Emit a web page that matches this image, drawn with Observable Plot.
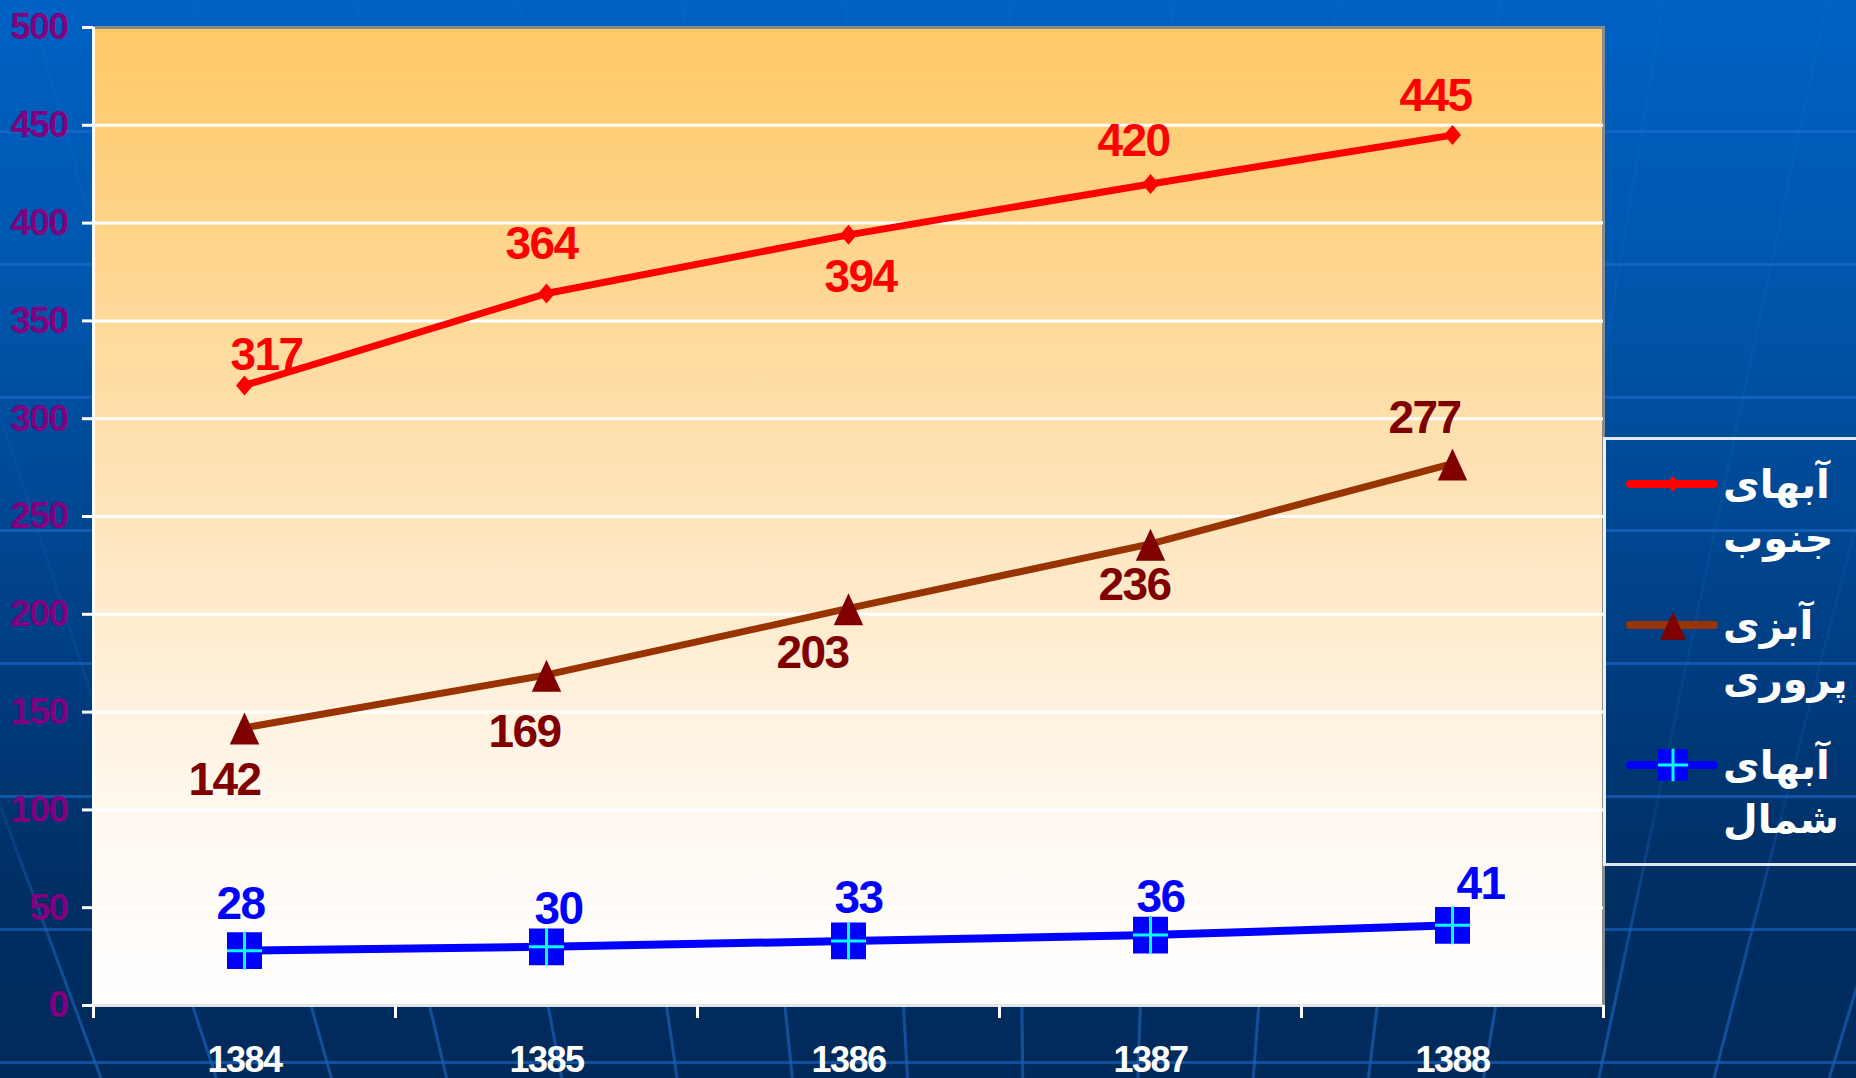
<!DOCTYPE html>
<html>
<head>
<meta charset="utf-8">
<script src="https://cdn.jsdelivr.net/npm/d3@7"></script>
<script src="https://cdn.jsdelivr.net/npm/@observablehq/plot@0.6"></script>
<style>
html, body { margin: 0; padding: 0; width: 1856px; height: 1078px; overflow: hidden; }
body {
  position: relative;
  background:
    repeating-linear-gradient(to bottom, transparent 0px, transparent 130px, rgba(30,110,210,0.55) 130px, rgba(30,110,210,0.55) 133px),
    linear-gradient(to bottom, #0062C4 0%, #0054A8 30%, #00428A 55%, #002F64 82%, #002A5A 100%);
}
#deco { position: absolute; left: 0; top: 0; }
#chart { position: absolute; left: 0; top: 0; }
#chart text { letter-spacing: -1.5px; }
#legend {
  position: absolute; left: 1603px; top: 437px; width: 253px; height: 429px;
  box-sizing: border-box;
  border-top: 3px solid #dfe6ee; border-bottom: 3px solid #dfe6ee; border-left: 3px solid #eef2f6;
}
.item { position: absolute; left: 0; width: 253px; height: 130px; }
.item svg { position: absolute; left: 0; top: 0; }
.txt {
  position: absolute; left: 117px; width: 136px;
  font-family: "DejaVu Sans", sans-serif; font-weight: bold; font-size: 40px; line-height: 56px;
  color: white; direction: rtl; text-align: left; white-space: nowrap;
}
</style>
</head>
<body>
<svg id="deco" width="1856" height="1078"></svg>
<div id="chart"></div>
<div id="legend"></div>
<script>
// ---- data ----
const years = [1384, 1385, 1386, 1387, 1388];
const seriesNames = ["آبهای جنوب", "آبزی پروری", "آبهای شمال"];
const southWaters = [317, 364, 394, 420, 445];
const aquaculture = [142, 169, 203, 236, 277];
const northWaters = [28, 30, 33, 36, 41];
const yTicks = [0, 50, 100, 150, 200, 250, 300, 350, 400, 450, 500];

// ---- label placement (pixel offsets from each point) ----
const southLabelShift = [[22, -30], [-5, -49], [12, 42], [-17, -43], [-17, -39]];
const aquaLabelShift = [[-20, 53], [-22, 57], [-36, 45], [-16, 41], [-28, -45]];
const northLabelShift = [[-4, -46], [12, -38], [10, -43], [10, -38], [28, -41]];

// ---- custom symbols ----
const rhombus = {draw(ctx, size) { const h = Math.sqrt(size / Math.PI), w = h * 0.85;
  ctx.moveTo(0, -h); ctx.lineTo(w, 0); ctx.lineTo(0, h); ctx.lineTo(-w, 0); ctx.closePath(); }};
const tri = {draw(ctx, size) { const r = Math.sqrt(size / Math.PI);
  ctx.moveTo(0, -r * 0.95); ctx.lineTo(r * 0.92, r * 1.05); ctx.lineTo(-r * 0.92, r * 1.05); ctx.closePath(); }};
const box = {draw(ctx, size) { const r = Math.sqrt(size / Math.PI);
  ctx.rect(-r, -r * 1.05, 2 * r, 2.1 * r); }};
const cross = {draw(ctx, size) { const r = Math.sqrt(size / Math.PI);
  ctx.moveTo(-r, 0); ctx.lineTo(r, 0); ctx.moveTo(0, -r * 1.08); ctx.lineTo(0, r * 1.08); }};

const series = [
  {name: seriesNames[0], values: southWaters, shift: southLabelShift, line: "#FF0000", mark: "#FF0000", text: "#FF0000"},
  {name: seriesNames[1], values: aquaculture, shift: aquaLabelShift, line: "#993300", mark: "#800000", text: "#800000"},
  {name: seriesNames[2], values: northWaters, shift: northLabelShift, line: "#0000FF", mark: "#0000FF", text: "#0000FF"}
];
const rows = series.map(s => years.map((year, i) => ({year, value: s.values[i], dx: s.shift[i][0], dy: s.shift[i][1]})));
const bounds = [...years.map(y => y - 0.5), years[years.length - 1] + 0.5];
const font = "'Liberation Sans', Arial, sans-serif";

const labelMarks = [];
series.forEach((s, k) => rows[k].forEach(r => labelMarks.push(
  Plot.text([r], {x: "year", y: "value", text: d => String(d.value), dx: r.dx, dy: r.dy,
    fill: s.text, fontSize: 46, fontWeight: "bold", fontFamily: font, lineAnchor: "middle"})
)));

const plot = Plot.plot({
  width: 1856, height: 1078,
  marginLeft: 93, marginRight: 253, marginTop: 27, marginBottom: 73,
  style: {background: "transparent", fontFamily: font, overflow: "visible"},
  x: {domain: [bounds[0], bounds[bounds.length - 1]]},
  y: {domain: [0, 500]},
  marks: [
    Plot.frame({fill: "url(#plotBg)", stroke: "#8a8a8a", strokeWidth: 3}),
    Plot.ruleY(yTicks.filter(d => d > 0 && d < 500), {stroke: "white", strokeWidth: 3}),
    Plot.ruleX([bounds[0]], {stroke: "white", strokeWidth: 3}),
    Plot.ruleY([0], {stroke: "#e4e4e4", strokeWidth: 3}),
    Plot.axisY({ticks: yTicks, tickSize: 11, tickFormat: () => "", color: "white", strokeWidth: 3, label: null}),
    Plot.axisY({ticks: yTicks, tickSize: 0, tickPadding: 26, tickFormat: d => String(d), color: "#800080",
      fontSize: 37, fontWeight: "bold", label: null}),
    Plot.axisX({ticks: bounds, tickSize: 13, tickFormat: () => "", color: "white", strokeWidth: 3, label: null}),
    Plot.axisX({ticks: years, tickSize: 0, tickPadding: 41, tickFormat: d => String(d), color: "white",
      fontSize: 36, fontWeight: "bold", label: null}),
    ...series.map((s, k) => Plot.line(rows[k], {x: "year", y: "value", stroke: s.line, strokeWidth: k === 2 ? 8 : 7})),
    Plot.dot(rows[0], {x: "year", y: "value", symbol: rhombus, r: 10, fill: "#FF0000", stroke: "none"}),
    Plot.dot(rows[1], {x: "year", y: "value", symbol: tri, r: 16, fill: "#800000", stroke: "none"}),
    Plot.dot(rows[2], {x: "year", y: "value", symbol: box, r: 17.5, fill: "#0000FF", stroke: "none"}),
    Plot.dot(rows[2], {x: "year", y: "value", symbol: cross, r: 17.5, stroke: "#00FFFF", strokeWidth: 3, fill: "none"}),
    ...labelMarks
  ]
});

const svg = d3.select(plot);
const defs = svg.insert("defs", ":first-child");
const g = defs.append("linearGradient").attr("id", "plotBg").attr("x1", 0).attr("y1", 0).attr("x2", 0).attr("y2", 1);
g.append("stop").attr("offset", "0%").attr("stop-color", "#FEC865");
g.append("stop").attr("offset", "45%").attr("stop-color", "#FEE2B4");
g.append("stop").attr("offset", "80%").attr("stop-color", "#FFF8F0");
g.append("stop").attr("offset", "100%").attr("stop-color", "#FFFFFF");
document.getElementById("chart").appendChild(plot);

// decorative background fan lines (template texture), fading toward the top
const deco = d3.select("#deco");
const fg = deco.append("defs").append("linearGradient").attr("id", "fade")
  .attr("gradientUnits", "userSpaceOnUse").attr("x1", 0).attr("y1", 0).attr("x2", 0).attr("y2", 1078);
fg.append("stop").attr("offset", "0%").attr("stop-color", "rgba(30,110,210,0.12)");
fg.append("stop").attr("offset", "75%").attr("stop-color", "rgba(30,110,210,0.15)");
fg.append("stop").attr("offset", "93%").attr("stop-color", "rgba(25,95,180,0.7)");
for (let x0 = -40; x0 < 1900; x0 += 118) {
  const xv = 1054, yv = 3652;
  const t = (0 - 1016) / (yv - 1016);
  deco.append("line").attr("x1", x0 + (xv - x0) * t).attr("y1", 0).attr("x2", x0 + (xv - x0) * ((1078 - 1016) / (yv - 1016))).attr("y2", 1078)
    .attr("stroke", "url(#fade)").attr("stroke-width", 3);
}

// legend
const legend = d3.select("#legend");
const legendSymbols = [
  (sel) => sel.append("path").attr("d", d3.symbol(rhombus, Math.PI * 64)()).attr("fill", "#FF0000"),
  (sel) => sel.append("path").attr("d", d3.symbol(tri, Math.PI * 196)()).attr("fill", "#800000"),
  (sel) => { sel.append("path").attr("d", d3.symbol(box, Math.PI * 225)()).attr("fill", "#0000FF");
             sel.append("path").attr("d", d3.symbol(cross, Math.PI * 225)()).attr("stroke", "#00FFFF").attr("stroke-width", 3).attr("fill", "none"); }
];
series.forEach((s, k) => {
  const item = legend.append("div").attr("class", "item").style("top", (k * 140.5) + "px");
  const sw = item.append("svg").attr("width", 130).attr("height", 90);
  sw.append("line").attr("x1", 24).attr("x2", 108).attr("y1", 44).attr("y2", 44)
    .attr("stroke", s.line).attr("stroke-width", 8).attr("stroke-linecap", "round");
  legendSymbols[k](sw.append("g").attr("transform", "translate(67,44)"));
  const words = s.name.split(" ");
  item.append("div").attr("class", "txt").style("top", "16px").text(words[0]);
  item.append("div").attr("class", "txt").style("top", "70px").text(words[1]);
});
</script>
</body>
</html>
